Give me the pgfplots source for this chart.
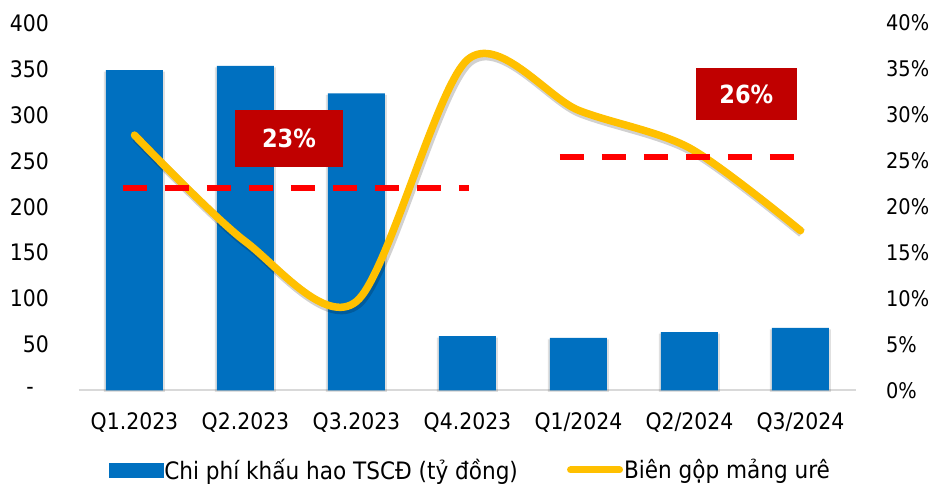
\documentclass[border=0pt]{standalone}
\usepackage{pgfplots}
\pgfplotsset{compat=1.18}
\usepackage{fontspec}
\setmainfont{DejaVu Sans Condensed}
\definecolor{barblue}{HTML}{0070C0}
\definecolor{linegold}{HTML}{FFC000}
\definecolor{dashred}{HTML}{FF0000}
\definecolor{boxred}{HTML}{C00000}
\definecolor{axisgray}{HTML}{D9D9D9}
\begin{document}
\begin{tikzpicture}
\useasboundingbox (0,0) rectangle (930pt,489pt);
\pgfplotsset{
  base/.style={scale only axis, width=777pt, height=367.5pt, at={(79pt,98.5pt)}, anchor=south west,
    xmin=-0.5, xmax=6.5, tick style={draw=none}, major tick length=0pt, clip=false,
    ticklabel style={font=\fontsize{22.7}{27}\selectfont, inner sep=0pt}},
}
\begin{axis}[base, ymin=0, ymax=400,
  ytick={0,50,...,400}, yticklabels={{-\kern15pt},50,100,150,200,250,300,350,400},
  xtick={0,...,6}, xticklabels={Q1.2023,Q2.2023,Q3.2023,Q4.2023,Q1/2024,Q2/2024,Q3/2024},
  axis x line*=bottom, axis y line*=left,
  x axis line style={-, draw=axisgray, line width=2pt}, y axis line style={draw=none},
  xticklabel style={yshift=-21.5pt}, yticklabel style={xshift=-30pt},
  ybar, bar width=57pt]
\addplot[fill=black, opacity=0.12, draw=none, bar width=61pt, bar shift=0pt, yshift=-1.5pt, forget plot]
  coordinates {(0,348.7) (1,353.4) (2,323.4) (3,59.3) (4,57.4) (5,63.6) (6,68.2)};
\addplot[fill=barblue, draw=none, bar shift=0pt]
  coordinates {(0,348.7) (1,353.4) (2,323.4) (3,59.3) (4,57.4) (5,63.6) (6,68.2)};
\end{axis}
\begin{axis}[base, ymin=0, ymax=40,
  ytick={0,5,...,40}, yticklabels={0\%,5\%,10\%,15\%,20\%,25\%,30\%,35\%,40\%},
  axis x line=none, axis y line*=right, y axis line style={draw=none},
  yticklabel style={xshift=30pt, font=\fontsize{21.5}{26}\selectfont},
  legend columns=2,
  legend style={at={(axis description cs:0.0386,-0.2163)}, anchor=west, draw=none, fill=none,
    inner sep=0pt, outer sep=0pt, font=\fontsize{24}{28}\selectfont,
    nodes={inner sep=1pt}, /tikz/every even column/.append style={column sep=48pt}}]
\addlegendimage{legend image code/.code={\fill[barblue] (0pt,-7pt) rectangle (54pt,7pt);}}
\addlegendentry{Chi phí khấu hao TSCĐ (tỷ đồng)}
\addplot[smooth, draw=black, opacity=0.18, line width=9pt, xshift=1.5pt, yshift=-2.5pt, forget plot]
  coordinates {(0,27.8) (1,16.2) (2,9.7) (3,36.0) (4,30.5) (5,26.4) (6,17.4)};
\addplot[smooth, draw=linegold, line width=7.5pt, line cap=round, line join=round,
  legend image code/.code={\draw[linegold, line width=7pt, line cap=round] (3.5pt,0pt) -- (52.5pt,0pt);}]
  coordinates {(0,27.8) (1,16.2) (2,9.7) (3,36.0) (4,30.5) (5,26.4) (6,17.4)};
\addlegendentry{Biên gộp mảng urê}
\addplot[draw=dashred, line width=6pt, dash pattern=on 24pt off 18pt, forget plot]
  coordinates {(-0.104,22.0) (3.014,22.0)};
\addplot[draw=dashred, line width=6pt, dash pattern=on 24pt off 18pt, forget plot]
  coordinates {(3.833,25.4) (5.941,25.4)};
\node[fill=boxred, minimum width=108pt, minimum height=56.7pt, inner sep=0pt, text=white,
  font=\fontsize{25}{30}\selectfont\bfseries] at (axis cs:1.392,27.45) {23\%};
\node[fill=boxred, minimum width=100.7pt, minimum height=51.7pt, inner sep=0pt, text=white,
  font=\fontsize{25}{30}\selectfont\bfseries] at (axis cs:5.512,32.28) {26\%};
\end{axis}
\end{tikzpicture}
\end{document}
